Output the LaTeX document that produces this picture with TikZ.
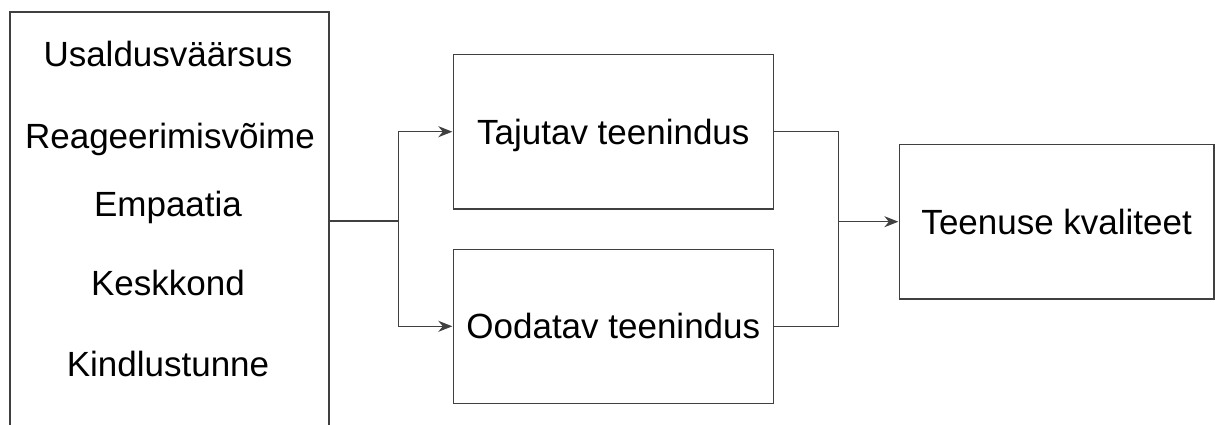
\documentclass[tikz,border=0pt]{standalone}
\usepackage{fontspec}
\setmainfont{Liberation Sans}
\usetikzlibrary{arrows.meta}
\definecolor{edge}{HTML}{404040}
\tikzset{
  box/.style={draw=edge, line width=1.3pt, rectangle, inner sep=0pt, outer sep=0pt,
    font=\fontsize{35}{41}\selectfont, text height=25pt, text depth=0pt, align=center},
  label/.style={inner sep=0pt, outer sep=0pt,
    font=\fontsize{35}{41}\selectfont, text height=25pt, text depth=0pt},
  link/.style={draw=edge, line width=1.3pt},
  flow/.style={link, -{Stealth[length=14pt, width=11pt, inset=4.5pt]}, shorten >=1pt}
}
\begin{document}
\begin{tikzpicture}[x=1pt, y=-1pt]
  \useasboundingbox (0,0) rectangle (1215,424);
  \clip (0,0) rectangle (1215,424);

  % dimensions of service quality
  \node[box, minimum width=319pt, minimum height=428pt] (L) at (169.5,226) {};
  \node[label] (d1) at (168,54.3) {Usaldusväärsus};
  \node[label] (d2) at (170,135.5) {Reageerimisvõime};
  \node[label] (d3) at (168,203.5) {Empaatia};
  \node[label] (d4) at (168,282.5) {Keskkond};
  \node[label] (d5) at (168,363.5) {Kindlustunne};

  % perceived and expected service
  \node[box, minimum width=320pt, minimum height=154.7pt] (T) at (613.3,131.7) {Tajutav teenindus};
  \node[box, minimum width=320pt, minimum height=154pt] (O) at (613.3,326.3) {Oodatav teenindus};

  % resulting quality
  \node[box, minimum width=314.7pt, minimum height=154.7pt] (Q) at (1056.7,221.7) {Teenuse kvaliteet};

  % branching connectors
  \coordinate (j1) at (398.7,221);
  \coordinate (j2) at (838.3,221.7);
  \draw[link] (L.east |- j1) -- (j1);
  \draw[flow] (j1) |- (T.west);
  \draw[flow] (j1) |- (O.west);
  \draw[link] (T.east) -| (j2 |- T.east) -- (j2 |- O.east) -- (O.east);
  \draw[flow] (j2) -- (Q.west);
\end{tikzpicture}
\end{document}
